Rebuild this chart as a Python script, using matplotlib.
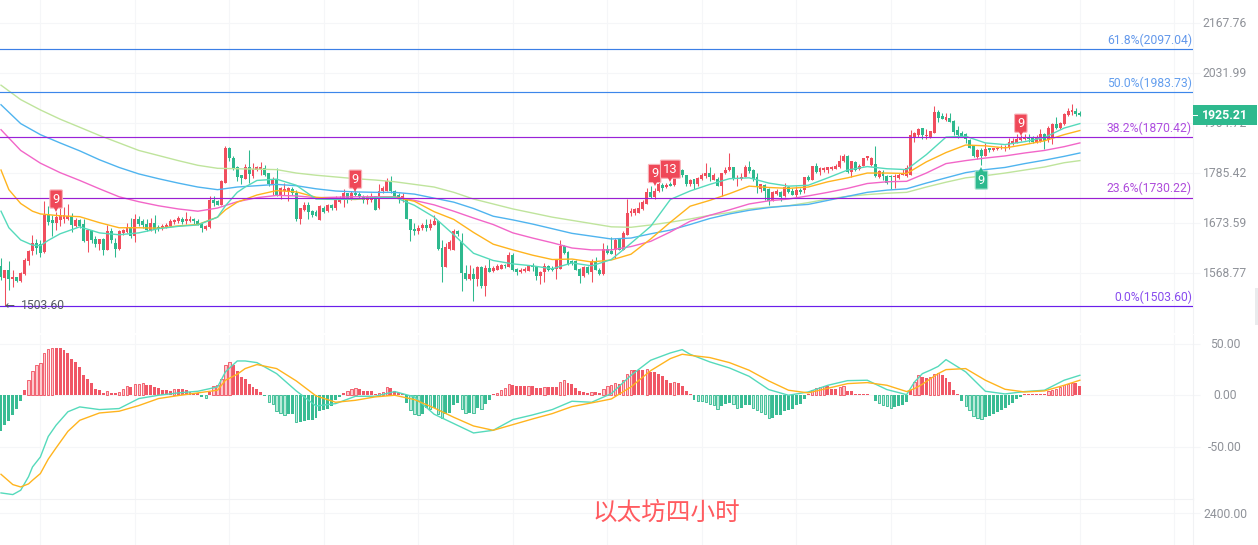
import matplotlib

matplotlib.use("Agg")

import matplotlib.pyplot as plt
from matplotlib.patches import Rectangle
from matplotlib.transforms import ScaledTranslation, blended_transform_factory, offset_copy

plt.rcParams["font.family"] = ["Roboto", "Noto Sans CJK SC", "DejaVu Sans"]

# candles, one entry per 4h bar
opens = [
    1584, 1559, 1576, 1558, 1562, 1553, 1567, 1593, 1614, 1631,
    1630, 1612, 1691, 1680, 1674, 1681, 1683, 1684, 1689, 1667,
    1681, 1673, 1635, 1660, 1641, 1630, 1641, 1617, 1656, 1631,
    1619, 1653, 1654, 1665, 1646, 1682, 1678, 1673, 1660, 1674,
    1666, 1663, 1665, 1667, 1676, 1678, 1684, 1678, 1679, 1682,
    1678, 1674, 1662, 1665, 1725, 1722, 1714, 1764, 1846, 1821,
    1800, 1782, 1773, 1800, 1780, 1793, 1795, 1798, 1786, 1762,
    1772, 1735, 1745, 1745, 1750, 1741, 1682, 1703, 1713, 1700,
    1698, 1681, 1707, 1700, 1713, 1707, 1721, 1725, 1740, 1727,
    1741, 1739, 1732, 1725, 1725, 1733, 1707, 1745, 1745, 1767,
    1745, 1735, 1727, 1727, 1683, 1662, 1657, 1664, 1669, 1664,
    1671, 1679, 1621, 1582, 1619, 1617, 1658, 1633, 1569, 1558,
    1567, 1557, 1581, 1544, 1579, 1574, 1576, 1578, 1586, 1582,
    1607, 1578, 1572, 1574, 1574, 1584, 1581, 1564, 1571, 1583,
    1579, 1577, 1578, 1626, 1612, 1593, 1593, 1577, 1564, 1581,
    1571, 1593, 1576, 1568, 1618, 1614, 1617, 1640, 1617, 1649,
    1695, 1696, 1697, 1705, 1717, 1743, 1732, 1745, 1758, 1754,
    1762, 1758, 1796, 1793, 1781, 1760, 1773, 1760, 1773, 1780,
    1786, 1771, 1773, 1757, 1787, 1792, 1800, 1773, 1773, 1778,
    1799, 1793, 1778, 1749, 1758, 1749, 1723, 1739, 1743, 1733,
    1754, 1745, 1737, 1748, 1748, 1778, 1771, 1803, 1789, 1792,
    1794, 1795, 1796, 1800, 1813, 1825, 1788, 1811, 1795, 1803,
    1820, 1805, 1807, 1778, 1788, 1780, 1780, 1776, 1775, 1781,
    1780, 1782, 1872, 1875, 1892, 1873, 1871, 1881, 1932, 1923,
    1913, 1919, 1911, 1889, 1882, 1878, 1864, 1851, 1823, 1840,
    1827, 1844, 1839, 1842, 1844, 1844, 1844, 1855, 1858, 1864,
    1866, 1871, 1868, 1860, 1862, 1878, 1864, 1872, 1903, 1893,
    1902, 1925, 1932, 1935, 1931,
]
closes = [
    1562, 1576, 1558, 1562, 1553, 1569, 1596, 1615, 1631, 1620,
    1610, 1691, 1677, 1674, 1687, 1692, 1691, 1690, 1669, 1681,
    1667, 1635, 1659, 1638, 1630, 1641, 1617, 1658, 1638, 1619,
    1656, 1659, 1666, 1646, 1682, 1673, 1669, 1660, 1674, 1660,
    1661, 1668, 1669, 1678, 1680, 1685, 1677, 1683, 1684, 1678,
    1673, 1663, 1667, 1725, 1719, 1714, 1767, 1846, 1820, 1797,
    1778, 1775, 1800, 1784, 1795, 1800, 1800, 1782, 1761, 1772,
    1735, 1751, 1750, 1751, 1741, 1682, 1706, 1714, 1698, 1691,
    1690, 1711, 1698, 1713, 1706, 1725, 1729, 1740, 1727, 1741,
    1737, 1732, 1724, 1732, 1734, 1703, 1745, 1752, 1767, 1745,
    1733, 1729, 1733, 1682, 1660, 1657, 1663, 1671, 1664, 1673,
    1679, 1618, 1582, 1623, 1633, 1658, 1651, 1569, 1558, 1567,
    1557, 1581, 1544, 1579, 1571, 1579, 1584, 1586, 1583, 1607,
    1575, 1571, 1576, 1578, 1584, 1581, 1564, 1571, 1584, 1576,
    1576, 1596, 1626, 1610, 1588, 1590, 1576, 1564, 1581, 1569,
    1593, 1576, 1568, 1618, 1610, 1609, 1638, 1617, 1653, 1696,
    1701, 1705, 1707, 1721, 1743, 1732, 1746, 1760, 1752, 1758,
    1757, 1796, 1792, 1781, 1760, 1771, 1760, 1775, 1782, 1786,
    1777, 1782, 1757, 1787, 1793, 1800, 1773, 1775, 1776, 1799,
    1790, 1773, 1755, 1760, 1745, 1723, 1743, 1745, 1732, 1754,
    1743, 1736, 1747, 1743, 1777, 1771, 1803, 1788, 1798, 1798,
    1799, 1801, 1803, 1815, 1825, 1788, 1813, 1792, 1803, 1822,
    1825, 1822, 1779, 1790, 1780, 1763, 1776, 1780, 1782, 1786,
    1798, 1877, 1880, 1890, 1875, 1877, 1885, 1932, 1917, 1916,
    1921, 1909, 1883, 1877, 1874, 1866, 1844, 1825, 1840, 1827,
    1843, 1839, 1844, 1846, 1848, 1848, 1859, 1861, 1866, 1868,
    1871, 1866, 1860, 1871, 1878, 1862, 1894, 1903, 1893, 1905,
    1928, 1936, 1938, 1928, 1925.21,
]
highs = [
    1601, 1576, 1593, 1576, 1562, 1571, 1600, 1617, 1649, 1640,
    1638, 1722, 1712, 1692, 1699, 1707, 1709, 1716, 1696, 1685,
    1683, 1683, 1659, 1660, 1646, 1641, 1642, 1670, 1664, 1642,
    1660, 1662, 1674, 1685, 1694, 1689, 1682, 1682, 1685, 1692,
    1671, 1672, 1674, 1682, 1683, 1689, 1687, 1699, 1690, 1685,
    1682, 1676, 1670, 1733, 1733, 1725, 1771, 1850, 1848, 1825,
    1803, 1782, 1807, 1841, 1809, 1803, 1812, 1804, 1786, 1778,
    1798, 1754, 1763, 1754, 1754, 1748, 1706, 1720, 1721, 1702,
    1702, 1713, 1711, 1715, 1717, 1733, 1733, 1749, 1740, 1745,
    1744, 1742, 1737, 1737, 1741, 1733, 1762, 1756, 1775, 1780,
    1748, 1741, 1741, 1729, 1683, 1674, 1669, 1675, 1682, 1682,
    1692, 1679, 1638, 1631, 1638, 1661, 1660, 1653, 1586, 1586,
    1579, 1583, 1583, 1586, 1598, 1583, 1587, 1588, 1588, 1612,
    1610, 1579, 1579, 1581, 1586, 1590, 1584, 1573, 1590, 1586,
    1583, 1598, 1638, 1628, 1614, 1596, 1595, 1579, 1583, 1583,
    1598, 1603, 1579, 1631, 1627, 1645, 1642, 1642, 1656, 1727,
    1707, 1708, 1720, 1725, 1752, 1756, 1752, 1767, 1763, 1763,
    1765, 1800, 1800, 1796, 1782, 1773, 1773, 1778, 1786, 1809,
    1800, 1786, 1776, 1787, 1800, 1834, 1801, 1782, 1786, 1805,
    1815, 1795, 1786, 1762, 1760, 1752, 1745, 1749, 1745, 1763,
    1757, 1752, 1757, 1751, 1778, 1782, 1803, 1809, 1800, 1800,
    1800, 1803, 1807, 1829, 1831, 1829, 1813, 1813, 1807, 1822,
    1826, 1823, 1850, 1792, 1792, 1782, 1782, 1784, 1785, 1795,
    1805, 1889, 1884, 1894, 1894, 1890, 1887, 1947, 1938, 1930,
    1930, 1930, 1912, 1897, 1885, 1880, 1866, 1852, 1843, 1844,
    1858, 1846, 1846, 1848, 1851, 1851, 1868, 1868, 1878, 1876,
    1878, 1879, 1873, 1876, 1890, 1880, 1899, 1905, 1920, 1908,
    1930, 1942, 1954, 1944, 1935,
]
lows = [
    1555, 1503.6, 1535, 1542, 1552, 1551, 1566, 1585, 1607, 1608,
    1603, 1610, 1670, 1647, 1659, 1667, 1674, 1681, 1655, 1665,
    1664, 1634, 1613, 1631, 1624, 1617, 1607, 1617, 1631, 1603,
    1617, 1649, 1652, 1642, 1634, 1667, 1664, 1656, 1656, 1653,
    1658, 1660, 1663, 1665, 1673, 1674, 1672, 1673, 1676, 1673,
    1669, 1654, 1660, 1664, 1711, 1713, 1714, 1764, 1815, 1794,
    1767, 1761, 1773, 1763, 1775, 1790, 1782, 1780, 1756, 1737,
    1733, 1727, 1735, 1722, 1737, 1678, 1672, 1700, 1683, 1687,
    1689, 1680, 1695, 1698, 1703, 1703, 1718, 1709, 1718, 1725,
    1733, 1730, 1718, 1717, 1721, 1702, 1705, 1741, 1745, 1741,
    1730, 1718, 1721, 1682, 1635, 1649, 1651, 1660, 1658, 1660,
    1671, 1617, 1552, 1582, 1617, 1617, 1646, 1533, 1556, 1556,
    1513, 1544, 1539, 1523, 1571, 1571, 1575, 1577, 1579, 1582,
    1573, 1565, 1569, 1571, 1573, 1574, 1556, 1548, 1551, 1573,
    1573, 1557, 1578, 1609, 1586, 1586, 1576, 1550, 1562, 1567,
    1552, 1575, 1566, 1566, 1609, 1609, 1600, 1616, 1616, 1649,
    1689, 1692, 1696, 1703, 1717, 1730, 1727, 1743, 1745, 1752,
    1756, 1757, 1786, 1778, 1757, 1757, 1749, 1757, 1771, 1775,
    1767, 1770, 1756, 1733, 1784, 1790, 1770, 1757, 1771, 1777,
    1786, 1767, 1740, 1743, 1725, 1714, 1722, 1737, 1722, 1732,
    1741, 1735, 1732, 1739, 1741, 1767, 1771, 1786, 1782, 1788,
    1787, 1794, 1795, 1797, 1811, 1786, 1778, 1790, 1794, 1803,
    1817, 1803, 1776, 1774, 1771, 1762, 1750, 1752, 1773, 1781,
    1778, 1782, 1860, 1871, 1866, 1866, 1869, 1881, 1907, 1915,
    1911, 1907, 1877, 1869, 1872, 1856, 1844, 1823, 1818, 1805,
    1825, 1835, 1838, 1840, 1842, 1838, 1843, 1853, 1856, 1862,
    1864, 1860, 1856, 1858, 1860, 1843, 1859, 1855, 1890, 1891,
    1900, 1924, 1925, 1923, 1923,
]

# moving averages, read every few bars
ma_index = list(range(0, 271, 5)) + [274]
ma_green = [2001, 1964, 1938, 1915, 1895, 1875, 1857, 1839, 1827, 1815, 1804, 1797, 1796, 1795, 1794, 1786,
            1781, 1777, 1773, 1770, 1766, 1760, 1754, 1742, 1727, 1716, 1705, 1696, 1687, 1680, 1673, 1666,
            1665, 1670, 1676, 1683, 1691, 1697, 1705, 1709, 1712, 1719, 1727, 1733, 1737, 1740, 1742, 1754,
            1765, 1775, 1780, 1786, 1793, 1800, 1810, 1815]
ma_blue = [1951, 1904, 1877, 1857, 1838, 1817, 1799, 1784, 1773, 1763, 1754, 1748, 1754, 1757, 1760, 1757,
           1750, 1745, 1743, 1742, 1742, 1738, 1729, 1720, 1706, 1689, 1681, 1672, 1662, 1652, 1646, 1640,
           1642, 1651, 1659, 1671, 1684, 1694, 1702, 1708, 1712, 1715, 1724, 1733, 1742, 1747, 1750, 1763,
           1775, 1787, 1794, 1799, 1808, 1816, 1825, 1833]
ma_pink = [1889, 1839, 1809, 1787, 1769, 1750, 1732, 1721, 1712, 1705, 1700, 1707, 1721, 1730, 1735, 1734,
           1730, 1731, 1732, 1732, 1732, 1724, 1714, 1700, 1685, 1671, 1653, 1642, 1632, 1621, 1617, 1617,
           1624, 1635, 1655, 1678, 1691, 1703, 1716, 1723, 1727, 1734, 1742, 1751, 1762, 1766, 1767, 1786,
           1808, 1815, 1821, 1826, 1833, 1839, 1848, 1857]
orange_index = [0, 2, 5, 8] + list(range(10, 56, 5)) + [57] + list(range(60, 271, 5)) + [274]
ma_orange = [1793, 1748, 1717, 1700, 1694, 1690, 1688, 1675, 1664, 1664, 1663, 1668, 1671, 1687, 1703, 1720,
             1736, 1746, 1743, 1731, 1727, 1726, 1730, 1731, 1722, 1699, 1682, 1654, 1629, 1617, 1606, 1597,
             1598, 1592, 1596, 1608, 1640, 1676, 1711, 1724, 1739, 1756, 1753, 1751, 1754, 1766, 1775, 1786,
             1786, 1785, 1812, 1834, 1852, 1850, 1845, 1853, 1862, 1877, 1887]
teal_index = [0, 2, 5, 8, 10, 12] + list(range(15, 56, 5)) + [57, 60, 62] + list(range(65, 271, 5)) + [274]
ma_teal = [1700, 1664, 1638, 1627, 1626, 1637, 1651, 1666, 1653, 1649, 1653, 1662, 1667, 1670, 1687, 1712,
           1742, 1754, 1769, 1772, 1758, 1727, 1726, 1727, 1730, 1731, 1713, 1687, 1649, 1610, 1595, 1588,
           1584, 1578, 1590, 1584, 1597, 1631, 1667, 1726, 1745, 1760, 1773, 1775, 1763, 1756, 1758, 1775,
           1793, 1801, 1796, 1794, 1829, 1871, 1873, 1857, 1853, 1860, 1870, 1893, 1904]

# fibonacci levels
fib_prices = [2097.04, 1983.73, 1870.42, 1730.22, 1503.60]
fib_labels = ["61.8%(2097.04)", "50.0%(1983.73)", "38.2%(1870.42)", "23.6%(1730.22)", "0.0%(1503.60)"]
fib_colors = ["#3c7fe6", "#3c86ea", "#9a22d8", "#9a1fd2", "#6a1fea"]

# sequence tags
td_index = [14, 90, 166, 170, 259]
td_price = [1727, 1772, 1785, 1795, 1905]
td_text = ["9", "9", "9", "13", "9"]
td_green_index = [249]
td_green_price = [1770]
td_green_text = ["9"]

price_ticks = [2167.76, 2031.99, 1904.72, 1785.42, 1673.59, 1568.77]
price_tick_labels = ["2167.76", "2031.99", "1904.72", "1785.42", "1673.59", "1568.77"]
macd_ticks = [50, 0, -50]
macd_tick_labels = ["50.00", "0.00", "-50.00"]

# macd histogram, one entry per bar
macd_hist = [
    -34.6, -29.1, -24.9, -19.4, -13.3, -5.8, 4.9, 14.6, 23.3, 29.1,
    31.1, 41.4, 45.3, 46.3, 46.3, 46.3, 43.7, 40.8, 35.0, 32.0,
    27.5, 19.4, 15.5, 11.7, 6.5, 4.9, 1.9, 4.5, 2.6, 1.9,
    3.6, 5.8, 8.7, 7.8, 10.7, 11.3, 11.7, 9.7, 9.7, 7.8,
    6.8, 5.5, 4.9, 4.5, 5.8, 5.8, 5.8, 4.9, 3.6, 2.6,
    2.6, -1.6, -2.6, 3.2, 9.1, 9.7, 15.5, 29.1, 32.0, 29.1,
    23.3, 17.5, 15.5, 10.7, 7.8, 5.8, 2.9, -1.0, -6.8, -8.7,
    -15.5, -17.2, -18.8, -18.1, -17.8, -25.9, -25.9, -24.9, -24.3, -23.6,
    -22.3, -15.5, -14.6, -12.9, -10.7, -4.9, -1.6, 2.6, 3.9, 5.8,
    6.8, 5.8, 3.9, 3.9, 3.9, 1.0, 1.9, 2.9, 7.8, 6.8,
    3.9, 1.9, 1.0, -7.4, -13.9, -17.8, -19.1, -17.8, -12.0, -13.6,
    -12.3, -17.8, -21.7, -18.4, -17.2, -9.7, -7.4, -12.9, -17.2, -16.8,
    -17.2, -12.3, -12.9, -8.1, -4.2, 1.0, 2.6, 5.5, 7.4, 11.3,
    10.4, 9.4, 8.7, 8.7, 9.4, 9.4, 7.4, 6.8, 8.4, 8.4,
    7.8, 7.8, 13.3, 15.2, 12.3, 10.7, 7.4, 3.9, 3.2, 1.9,
    3.6, 2.9, 2.3, 6.5, 8.7, 9.7, 12.0, 11.3, 14.6, 21.0,
    24.9, 24.9, 24.9, 24.9, 25.9, 23.0, 22.3, 21.0, 18.8, 15.2,
    12.3, 12.9, 12.3, 9.4, 4.2, 1.0, -4.2, -5.5, -5.8, -6.8,
    -8.1, -9.7, -12.9, -10.7, -8.7, -7.1, -8.7, -12.0, -12.0, -9.7,
    -9.7, -12.0, -14.6, -16.2, -17.8, -21.7, -21.7, -19.4, -19.4, -15.2,
    -13.9, -12.9, -9.7, -8.7, -3.2, 1.0, 5.5, 7.4, 8.1, 8.7,
    8.7, 6.5, 6.5, 8.1, 9.4, 4.5, 3.9, 1.6, 1.6, 1.6,
    1.6, 0.6, -5.5, -7.4, -9.4, -10.7, -12.0, -11.3, -10.7, -9.7,
    -6.5, 4.9, 12.9, 19.4, 17.8, 16.8, 17.8, 21.0, 21.7, 19.4,
    17.2, 12.9, 5.5, 1.0, -5.5, -10.7, -14.6, -20.4, -21.7, -22.7,
    -21.0, -20.4, -17.8, -16.2, -14.6, -12.3, -9.7, -7.4, -3.9, -1.6,
    1.6, 1.6, 1.6, 1.6, 1.6, 1.6, 3.9, 5.5, 6.5, 8.1,
    9.7, 11.3, 12.0, 12.0, 8.7,
]
macd_index = [0, 3, 5, 7, 8, 10, 12, 14, 17, 20, 25, 30, 35, 40, 45, 50, 55, 57, 60, 62, 65, 70, 75, 80, 85,
              90, 95, 100, 105, 110, 115, 120, 125, 130, 135, 140, 145, 150, 155, 160, 165, 170, 173, 175,
              180, 185, 190, 195, 200, 205, 210, 215, 220, 225, 230, 232, 234, 236, 238, 240, 245, 250, 255,
              260, 265, 270, 274]
macd_dif = [-94.8, -96.4, -92.2, -79.0, -69.6, -59.9, -40.0, -29.0, -16.0, -11.3, -13.9, -12.9, -3.2, 0, 2.3,
            3.9, 8.1, 22.7, 33.3, 33.3, 31.7, 21.0, 4.2, -10.4, -8.1, -1.0, -1.0, 3.6, -1.6, -18.4, -27.5,
            -36.6, -34.0, -23.6, -19.1, -13.9, -5.8, -6.8, 1.6, 19.4, 34.0, 41.1, 44.3, 39.8, 32.4, 26.5,
            18.4, 5.5, 0, 3.2, 9.7, 14.2, 14.6, 5.5, 0.6, 12.9, 21.0, 24.3, 28.0, 34.6, 22.7, 3.9, 1.3, 3.6,
            4.9, 14.6, 19.4]
macd_dea = [-76.7, -86.7, -89.0, -86.0, -82.5, -76.0, -62.0, -51.0, -35.0, -24.3, -17.2, -15.5, -10.0, -3.2,
            -0.3, 2.3, 4.9, 14.6, 20.4, 25.9, 29.8, 25.9, 13.9, -0.6, -6.8, -4.9, -1.6, 0, -4.2, -12.3, -21.4,
            -29.8, -34.0, -28.5, -23.0, -17.8, -11.0, -7.4, -3.6, 8.1, 23.9, 35.6, 39.8, 38.8, 36.6, 31.7,
            24.3, 13.9, 4.9, 2.3, 6.8, 11.3, 12.3, 9.7, 3.6, 6.5, 10.7, 15.9, 21.0, 24.9, 25.9, 14.6, 5.8,
            3.2, 4.2, 9.7, 14.6]

WIDTH, HEIGHT = 1258, 545
PANEL_RIGHT = 1193
BAR_STEP = 3.9375
UP_COLOR = "#f04e5e"
DOWN_COLOR = "#2eb98e"
GRID_COLOR = "#f5f6f8"
TICK_TEXT = "#8f9299"
TITLE = "以太坊四小时"


def px_axes(fig, top, bottom):
    return fig.add_axes([0, 1 - bottom / HEIGHT, PANEL_RIGHT / WIDTH, (bottom - top) / HEIGHT])


def style_axes(ax):
    ax.set_xlim(-1 / BAR_STEP, (PANEL_RIGHT - 1) / BAR_STEP)
    ax.set_xticks(range(10, 300, 24))
    ax.tick_params(axis="x", length=0, labelbottom=False)
    ax.grid(color=GRID_COLOR, linewidth=0.8)
    ax.set_axisbelow(True)
    for name, spine in ax.spines.items():
        spine.set_visible(name == "right")
        spine.set_color("#f1f2f4")
        spine.set_linewidth(0.8)
    ax.yaxis.tick_right()
    ax.tick_params(axis="y", length=5, width=0.8, color=GRID_COLOR, pad=18,
                   labelsize=8.7, labelcolor=TICK_TEXT)


def center_tick_labels(ax, lift=0):
    shift = ScaledTranslation(0, lift / 100, ax.figure.dpi_scale_trans)
    for label in ax.get_yticklabels():
        label.set_ha("center")
        label.set_transform(label.get_transform() + shift)


def draw_candles(ax):
    for i, (o, c, h, l) in enumerate(zip(opens, closes, highs, lows)):
        color = UP_COLOR if c >= o else DOWN_COLOR
        ax.vlines(i, l, h, color=color, linewidth=0.75, zorder=2)
        ax.bar(i, abs(c - o), bottom=min(o, c), width=0.74, color=color, linewidth=0, zorder=2)


def draw_tags(ax, fig, indexes, prices, texts, color, edge, marker, shift):
    for i, price, text in zip(indexes, prices, texts):
        ax.text(i, price, text, color="white", fontsize=9.4, ha="center", va="center", zorder=6,
                bbox=dict(boxstyle="round,pad=0.2,rounding_size=0.08", fc=color, ec=edge, lw=0.8))
        tip = offset_copy(ax.transData, fig=fig, y=shift, units="points")
        ax.plot([i], [price], marker=marker, markersize=4.5, color=color, markeredgewidth=0,
                transform=tip, zorder=6)


def draw_price_panel(fig):
    ax = px_axes(fig, 0, 333)
    ax.set_yscale("log")
    ax.set_ylim(1452.2, 2234.1)
    style_axes(ax)
    draw_candles(ax)
    ax.plot(ma_index, ma_green, color="#bfe49c", linewidth=1.0, zorder=3)
    ax.plot(ma_index, ma_blue, color="#4fb4ef", linewidth=1.0, zorder=3)
    ax.plot(ma_index, ma_pink, color="#f266c8", linewidth=1.0, zorder=3)
    ax.plot(orange_index, ma_orange, color="#ffb41e", linewidth=1.0, zorder=3)
    ax.plot(teal_index, ma_teal, color="#55dabb", linewidth=1.0, zorder=3)

    edge_trans = blended_transform_factory(ax.transAxes, ax.transData)
    for price, label, color in zip(fib_prices, fib_labels, fib_colors):
        ax.axhline(price, color=color, linewidth=0.85, zorder=4)
        ax.annotate(label, xy=(1, price), xycoords=edge_trans, xytext=(-0.8, 1.5),
                    textcoords="offset points", ha="right", va="bottom", color=color,
                    alpha=0.8, fontsize=8.7, zorder=5)

    draw_tags(ax, fig, td_index, td_price, td_text, "#ef4858", "#f9b4ba", "v", -7)
    draw_tags(ax, fig, td_green_index, td_green_price, td_green_text, "#2eb98e", "#a8e2cf", "^", 7)

    ax.text(2.2, 1503.6, "←", fontsize=7, fontweight="bold", color="#555a60", ha="center", va="center", zorder=6)
    ax.annotate("1503.60", xy=(1, 1503.6), xytext=(11.5, 0.5), textcoords="offset points",
                color="#555a60", fontsize=8.7, va="center", zorder=6)

    ax.set_yticks(price_ticks, price_tick_labels)
    ax.yaxis.set_minor_locator(plt.NullLocator())
    center_tick_labels(ax, lift=1)
    return ax


def draw_macd_panel(fig):
    ax = px_axes(fig, 335, 499)
    ax.set_ylim(-100.7, 58.5)
    style_axes(ax)
    ax.set_yticks(macd_ticks, macd_tick_labels)
    center_tick_labels(ax, lift=1)
    for i, v in enumerate(macd_hist):
        color = UP_COLOR if v >= 0 else DOWN_COLOR
        rising = i > 0 and macd_hist[i - 1] * v > 0 and abs(v) > abs(macd_hist[i - 1])
        if rising:
            ax.bar(i, v, width=0.6, facecolor="#fcc9cd" if v >= 0 else "#b9ead9", edgecolor=color,
                   linewidth=0.6, zorder=2)
        else:
            ax.bar(i, v, width=0.76, color=color, linewidth=0, alpha=0.95, zorder=2)
    ax.plot(macd_index, macd_dif, color="#55dabb", linewidth=1.0, zorder=3)
    ax.plot(macd_index, macd_dea, color="#ffb41e", linewidth=1.0, zorder=3)
    return ax


def draw_bottom_panel(fig):
    ax = px_axes(fig, 499, HEIGHT)
    # 2400 sits at 514 px, the next tick falls just under the picture edge
    ax.set_ylim(2055.6, 2555.6)
    style_axes(ax)
    ax.spines["top"].set_visible(True)
    ax.set_yticks([2400], ["2400.00"])
    center_tick_labels(ax)
    fig.text(1225 / WIDTH, 1 - 550 / HEIGHT, "2000.00", color=TICK_TEXT, fontsize=8.7,
             ha="center", va="center")
    return ax


def draw_overlays(fig):
    price_box = Rectangle((PANEL_RIGHT / WIDTH, 1 - 125 / HEIGHT), 64 / WIDTH, 20 / HEIGHT,
                          transform=fig.transFigure, facecolor="#2eb98e", edgecolor="none", zorder=10)
    fig.add_artist(price_box)
    fig.add_artist(Rectangle((PANEL_RIGHT / WIDTH, 1 - 115.5 / HEIGHT), 5 / WIDTH, 1 / HEIGHT,
                             transform=fig.transFigure, facecolor="white", edgecolor="none", zorder=11))
    fig.text(1225 / WIDTH, 1 - 115 / HEIGHT, "1925.21", color="white", fontsize=8.9, fontweight="bold",
             ha="center", va="center", zorder=12)
    fig.add_artist(Rectangle((1255 / WIDTH, 1 - 325 / HEIGHT), 3 / WIDTH, 37 / HEIGHT,
                             transform=fig.transFigure, facecolor="#eaebed", edgecolor="none", zorder=10))
    fig.text(666.5 / WIDTH, 1 - 513 / HEIGHT, TITLE, color="#ff5a5f", fontsize=17.7,
             family=["Noto Sans CJK SC", "DejaVu Sans"], ha="center", va="center", zorder=12)


def main():
    fig = plt.figure(figsize=(WIDTH / 100, HEIGHT / 100), dpi=100, facecolor="white")
    draw_price_panel(fig)
    draw_macd_panel(fig)
    draw_bottom_panel(fig)
    draw_overlays(fig)
    fig.savefig("out.png", dpi=100)
    plt.close(fig)


if __name__ == "__main__":
    main()
